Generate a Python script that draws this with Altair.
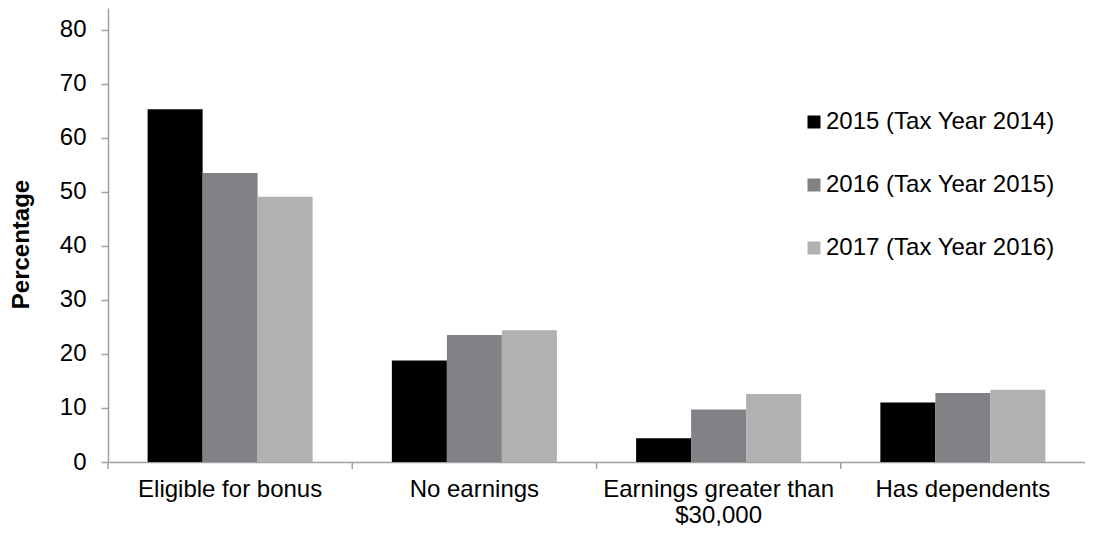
import altair as alt
import pandas as pd

categories = ["Eligible for bonus", "No earnings", "Earnings greater than $30,000", "Has dependents"]
series = ["2015 (Tax Year 2014)", "2016 (Tax Year 2015)", "2017 (Tax Year 2016)"]
values_2015 = [65.3, 18.8, 4.4, 11.0]
values_2016 = [53.5, 23.5, 9.7, 12.8]
values_2017 = [49.1, 24.4, 12.6, 13.4]
colors = ["#000000", "#808285", "#b1b1b1"]
y_ticks = [0, 10, 20, 30, 40, 50, 60, 70, 80]

rows = []
for s, vals in zip(series, [values_2015, values_2016, values_2017]):
    for c, v in zip(categories, vals):
        rows.append({"category": c, "series": s, "value": v})
df = pd.DataFrame(rows)
cat_df = pd.DataFrame({"category": categories})

FONT = "Liberation Sans"
AXIS_GRAY = "#a0a0a0"
PLOT_H = 454

x_scale = alt.Scale(paddingInner=0, paddingOuter=0)
x_axis = alt.Axis(
    title=None, ticks=False, labelAngle=0, labelFontSize=24, labelFont=FONT,
    labelColor="black", labelPadding=15, labelLineHeight=26, labelLimit=400,
    labelOverlap=False,
    labelExpr="datum.label == 'Earnings greater than $30,000' ? ['Earnings greater than', '$30,000'] : datum.label",
    domainColor=AXIS_GRAY, domainWidth=1.5,
)

bars = alt.Chart(df).mark_bar().encode(
    x=alt.X("category:N", sort=categories, scale=x_scale, axis=x_axis),
    xOffset=alt.XOffset("series:N", sort=series,
                        scale=alt.Scale(paddingInner=0, paddingOuter=0.72)),
    y=alt.Y("value:Q", scale=alt.Scale(domain=[0, 84.07], nice=False),
            axis=alt.Axis(values=y_ticks, title="Percentage", titleFont=FONT,
                          titleFontSize=24, titleFontWeight="bold", titleColor="black",
                          titleX=-87, titleY=236, titleBaseline="middle", titleAlign="center",
                          labelFontSize=24, labelFont=FONT, labelColor="black",
                          labelPadding=15, tickSize=7, tickColor=AXIS_GRAY, tickWidth=1.5,
                          domainColor=AXIS_GRAY, domainWidth=1.5, grid=False)),
    color=alt.Color("series:N", sort=series,
                    scale=alt.Scale(domain=series, range=colors),
                    legend=alt.Legend(orient="none", legendX=694, legendY=102, title=None,
                                      symbolType="square", symbolSize=169,
                                      symbolStrokeWidth=0, labelFontSize=24,
                                      labelFont=FONT, labelColor="black", labelOffset=0,
                                      rowPadding=39, padding=0, labelLimit=400,
                                      direction="vertical")),
)

ticks = alt.Chart(cat_df).mark_rule(color=AXIS_GRAY, strokeWidth=1.5).encode(
    x=alt.X("category:N", sort=categories, scale=x_scale, axis=x_axis, bandPosition=0),
    y=alt.value(PLOT_H),
    y2=alt.value(PLOT_H + 7),
)

chart = alt.layer(bars, ticks).properties(
    width=977, height=PLOT_H,
    autosize=alt.AutoSizeParams(type="none"),
    padding={"left": 100, "top": 0, "right": 0, "bottom": 66},
    background="white",
).configure_view(stroke=None)

chart.save("out.html", embed_options={"renderer": "svg", "actions": False})
